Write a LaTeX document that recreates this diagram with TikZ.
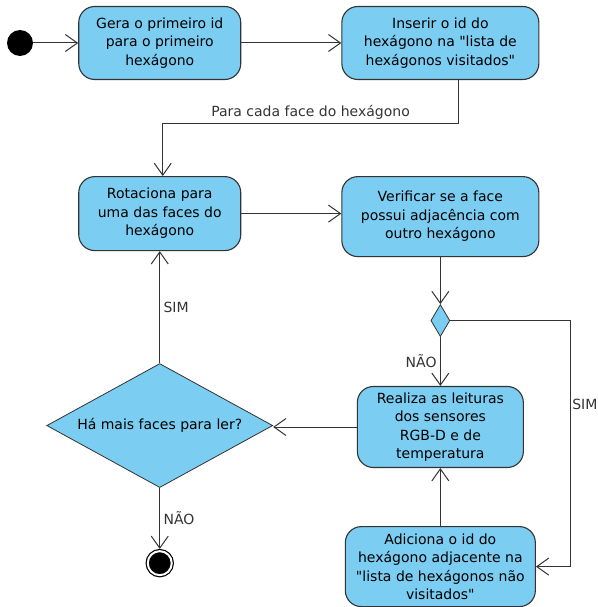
\documentclass[tikz,border=0pt]{standalone}
\usepackage{fontspec}
\setmainfont{DejaVu Sans}
\usepackage{tikz}
\usetikzlibrary{shapes.geometric, arrows.meta, positioning}
\definecolor{ink}{HTML}{333333}
\definecolor{actfill}{HTML}{7BCDF2}
\tikzset{
  act/.style      = {draw=ink, fill=actfill, line width=1.1pt, rectangle, rounded corners=16pt,
                     align=center, inner sep=4pt, font=\fontsize{14}{18.5}\selectfont},
  choice/.style   = {draw=ink, fill=actfill, line width=0.8pt, diamond, inner sep=0pt,
                     align=center, font=\fontsize{14}{18.5}\selectfont},
  initial/.style  = {circle, fill=black, minimum size=26pt, inner sep=0pt},
  final/.style    = {circle, draw=black, fill=black, line width=1.2pt, double=white,
                     double distance=2pt, minimum size=24pt, inner sep=0pt, outer sep=2.2pt},
  flow/.style     = {-{Straight Barb[length=12pt, width=17pt]}, draw=ink, line width=1pt},
  lbl/.style      = {font=\fontsize{14}{18}\selectfont, text=ink},
}
\newcommand{\qt}{\textquotedbl}

\begin{document}
\begin{tikzpicture}
  \useasboundingbox (0,0) rectangle (597pt,-607pt);

  \node[initial] (start) at (20pt,-43pt) {};
  \node[act, minimum width=162pt, minimum height=73pt, right=45pt of start] (gera)
    {Gera o primeiro id\\para o primeiro\\hexágono};
  \node[act, minimum width=197pt, minimum height=73pt, right=100pt of gera] (inserir)
    {Inserir o id do\\hexágono na \qt{}lista de\\hexágonos visitados\qt{}};
  \node[act, minimum width=162pt, minimum height=74pt, below=96pt of gera] (rot)
    {Rotaciona para\\uma das faces do\\hexágono};
  \node[act, minimum width=197pt, minimum height=80pt, below=96pt of inserir] (verif)
    {Verificar se a face\\possui adjacência com\\outro hexágono};
  \node[choice, minimum width=19pt, minimum height=32pt, below=47pt of verif] (dec) {};
  \node[act, minimum width=166pt, minimum height=81pt, below=49pt of dec] (realiza)
    {Realiza as leituras\\dos sensores\\RGB-D e de\\temperatura};
  \node[act, minimum width=190pt, minimum height=80pt, below=58pt of realiza] (adiciona)
    {Adiciona o id do\\hexágono adjacente na\\\qt{}lista de hexágonos não\\visitados\qt{}};
  \node[choice, aspect=1.8, minimum width=226pt, minimum height=124pt, below=112pt of rot] (mais)
    {Há mais faces para ler?};
  \node[final, below=61pt of mais] (end) {};

  \draw[flow] (start) -- (gera);
  \draw[flow] (gera) -- (inserir);
  \draw[flow] ([xshift=18pt]inserir.south) -- ++(0,-43pt) -| ([xshift=3pt]rot.north)
    node[lbl, pos=0.25, above] {Para cada face do hexágono};
  \draw[flow] (rot.east) -- (rot.east -| verif.west);
  \draw[flow] (verif) -- (dec);
  \draw[flow] (dec) -- node[lbl, left] {NÃO} (realiza);
  \draw[flow] (dec.east) -- ++(120pt,0) |- node[lbl, pos=0.17, right, inner sep=1.5pt] {SIM} (adiciona.east);
  \draw[flow] (adiciona) -- (realiza);
  \draw[flow] (realiza.west) -- (realiza.west -| mais.east);
  \draw[flow] (mais) -- node[lbl, right] {SIM} (rot);
  \draw[flow] (mais) -- node[lbl, right] {NÃO} (end);
\end{tikzpicture}
\end{document}
